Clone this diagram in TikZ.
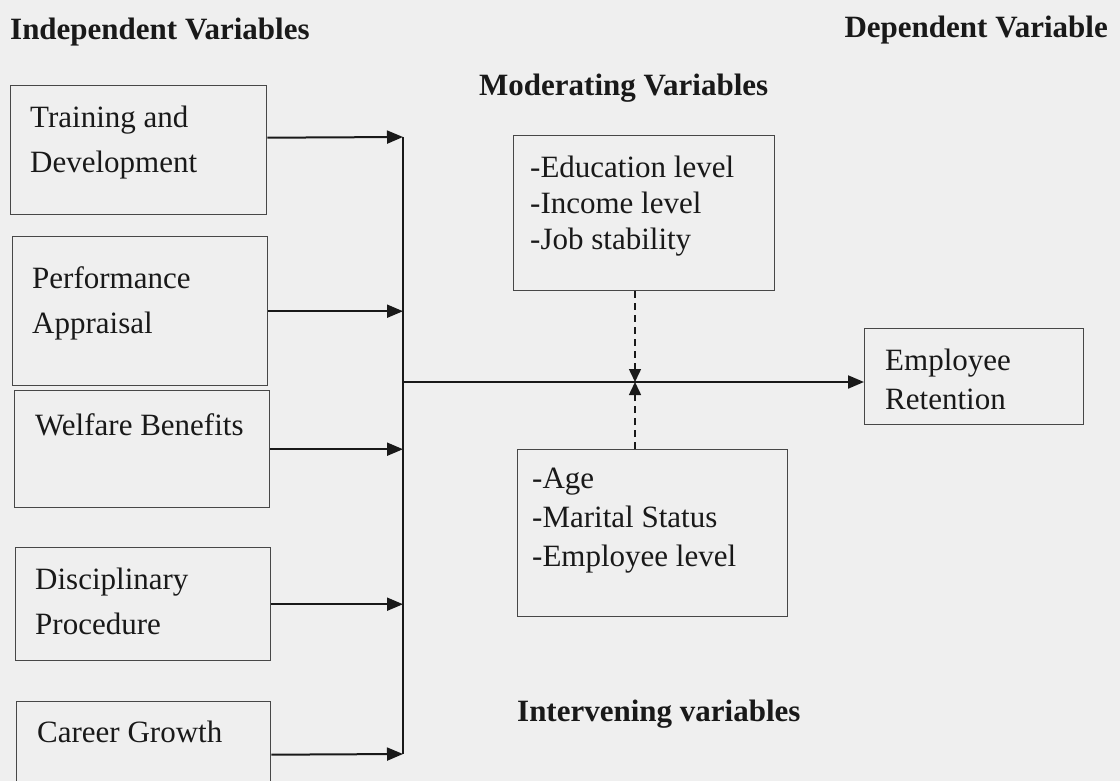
\documentclass[tikz,border=0pt]{standalone}
\usepackage{fontspec}
\setmainfont{Liberation Serif}
\usetikzlibrary{arrows.meta}
\definecolor{scan}{RGB}{239,239,239}
\definecolor{ink}{RGB}{25,25,25}
\begin{document}
\begin{tikzpicture}[
  x=1pt, y=-1pt,
  box/.style={draw=ink!80, line width=1.4pt, anchor=north west, inner sep=0pt},
  txt/.style={anchor=north west, inner sep=0pt, align=left, text=ink, font=\fontsize{31}{#1}\selectfont},
  txt/.default=45,
  head/.style={anchor=base west, inner sep=0pt, text=ink, font=\bfseries\fontsize{31}{36}\selectfont},
  arr/.style={draw=ink, line width=2pt, -{Triangle[length=16pt,width=13pt]}},
  dsh/.style={draw=ink, line width=1.5pt, dash pattern=on 7pt off 5pt, -{Triangle[length=13pt,width=12pt]}}
]
\useasboundingbox (0,0) rectangle (1120,781);
\fill[scan] (0,0) rectangle (1120,781);

% headings
\node[head] (indep) at (10,40) {Independent Variables};
\node[head, anchor=base east] (dep) at (1108,38) {Dependent Variable};
\node[head] (modhead) at (479,96) {Moderating Variables};
\node[head] (inthead) at (517,721) {Intervening variables};

% independent variables
\node[box, minimum width=256, minimum height=129] (tad) at (10,85) {};
\node[box, minimum width=255, minimum height=149] (pa) at (12,236) {};
\node[box, minimum width=255, minimum height=117] (wb) at (14,390) {};
\node[box, minimum width=255, minimum height=113] (dp) at (15,547) {};
\node[box, minimum width=254, minimum height=106] (cg) at (16,701) {};

\node[txt] (tad-t) at (30,106) {Training and\\Development};
\node[txt] (pa-t) at (32,266) {Performance\\Appraisal};
\node[txt] (wb-t) at (35,413) {Welfare Benefits};
\node[txt] (dp-t) at (35,568) {Disciplinary\\Procedure};
\node[txt] (cg-t) at (37,721) {Career Growth};

% moderating, intervening and dependent
\node[box, minimum width=261, minimum height=155] (mod) at (513,135) {};
\node[box, minimum width=270, minimum height=167] (int) at (517,449) {};
\node[box, minimum width=219, minimum height=96] (er) at (864,328) {};

\node[txt=36] (mod-t) at (530,156) {-Education level\\-Income level\\-Job stability};
\node[txt=39] (int-t) at (532,468) {-Age\\-Marital Status\\-Employee level};
\node[txt=39] (er-t) at (885,349) {Employee\\Retention};

% connectors
\coordinate (bustop) at (403,137);
\coordinate (busbot) at (403,754);
\coordinate (junc) at (403,382);
\coordinate (meet) at (635,382);

\draw[arr] ([yshift=12.5pt]tad.east) -- (bustop);
\draw[arr] (pa.east) -- (pa.east -| bustop);
\draw[arr] (wb.east) -- (wb.east -| bustop);
\draw[arr] (dp.east) -- (dp.east -| bustop);
\draw[arr] (cg.east) -- (busbot);
\draw[draw=ink, line width=2pt] (bustop) -- (busbot);
\draw[arr] (junc) -- (er.west |- junc);
\draw[dsh] (mod.south -| meet) -- (meet);
\draw[dsh] (int.north -| meet) -- (meet);
\end{tikzpicture}
\end{document}
